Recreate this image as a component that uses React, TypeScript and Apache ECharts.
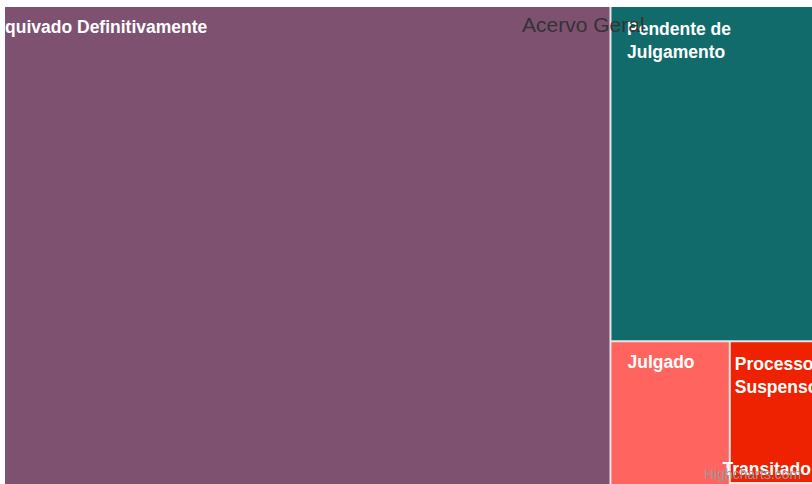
import React, { useEffect, useRef } from "react";
import * as echarts from "echarts";

const categories = [
  "Arquivado Definitivamente",
  "Pendente de Julgamento",
  "Julgado",
  "Processo Suspenso",
  "Transitado em Julgado",
];
const values = [30553, 7381, 2035, 1438, 306];
const labelLines = [
  "Arquivado Definitivamente",
  "Pendente de\nJulgamento",
  "Julgado",
  "Processo\nSuspenso",
  "Transitado em Julgado",
];
const titleText = "Acervo Geral";
const creditText = "Highcharts.com";

const colors = ["#7e5171", "#106b6a", "#ff645f", "#ee2200", "#4db6ac"];
const labelOffsets: number[][] = [
  [-19.4, 8.6],
  [15.5, 10.1],
  [16, 8.1],
  [4, 10.1],
  [-8.3, -26.4],
];

export default function App() {
  const ref = useRef<HTMLDivElement>(null);
  useEffect(() => {
    if (!ref.current) return;
    const chart = echarts.init(ref.current, null, { renderer: "svg" });
    const font = "'Liberation Sans', Arial, Helvetica, sans-serif";
    chart.setOption({
      animation: false,
      backgroundColor: "#ffffff",
      title: {
        text: titleText,
        left: 517,
        top: 14,
        padding: 0,
        textStyle: {
          color: "#333333",
          fontSize: 21,
          fontWeight: "normal",
          fontFamily: font,
        },
      },
      graphic: [
        {
          type: "text",
          z: 100,
          zlevel: 0,
          x: 699,
          y: 474,
          style: {
            text: creditText,
            fill: "#999999",
            font: `14px ${font}`,
            verticalAlign: "middle",
            align: "left",
          },
        },
      ],
      series: [
        {
          type: "treemap",
          left: 0,
          top: 7,
          width: 826,
          height: 505,
          squareRatio: 1,
          roam: false,
          nodeClick: false,
          sort: "desc",
          visibleMin: 0,
          breadcrumb: { show: false },
          emphasis: { disabled: true },
          itemStyle: { borderWidth: 0, borderColor: "#e6e6e6" },
          levels: [
            { itemStyle: { borderWidth: 0, gapWidth: 2, borderColor: "#e6e6e6" } },
            { itemStyle: { borderWidth: 0, gapWidth: 0, borderColor: "#e6e6e6" } },
          ],
          label: {
            show: true,
            color: "#ffffff",
            fontSize: 17.5,
            fontWeight: "bold",
            fontFamily: font,
            lineHeight: 23,
            padding: 0,
            overflow: "none",
            align: "left",
            verticalAlign: "top",
          },
          data: categories.map((name, i) => ({
            name,
            value: values[i],
            itemStyle: { color: colors[i] },
            label: { position: labelOffsets[i], formatter: labelLines[i] },
          })),
        },
      ],
    });
    return () => chart.dispose();
  }, []);
  return (
    <div
      ref={ref}
      style={{ position: "fixed", left: 5, top: 0, width: 807, height: 484 }}
    />
  );
}
